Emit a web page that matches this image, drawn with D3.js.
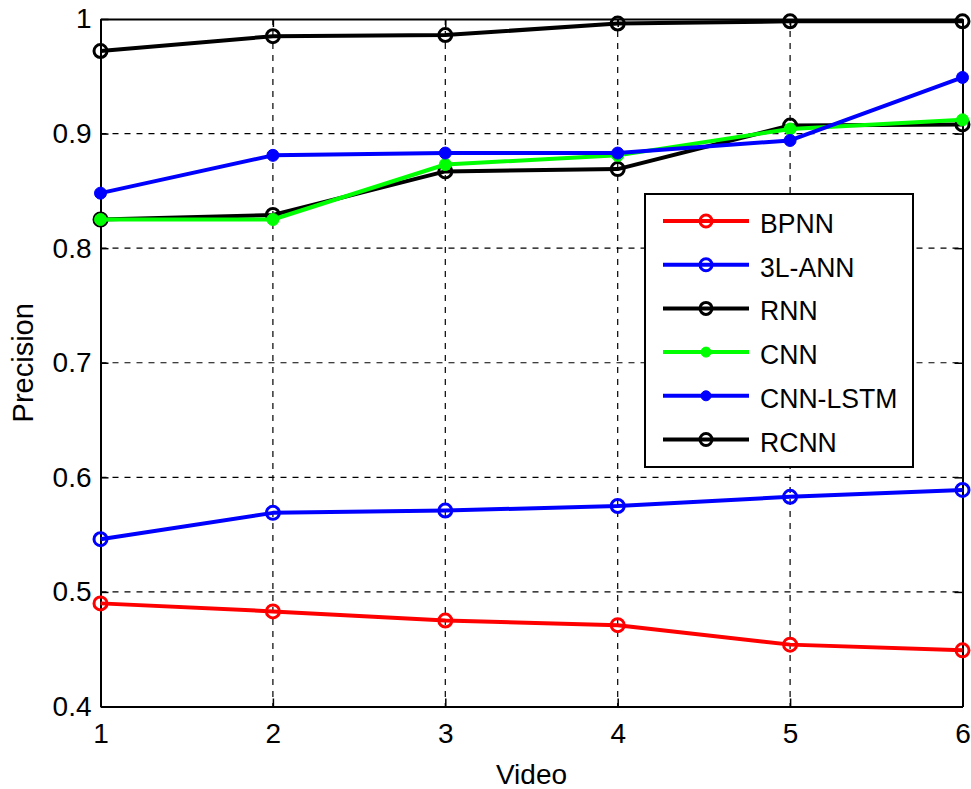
<!DOCTYPE html>
<html>
<head>
<meta charset="utf-8">
<script src="https://cdn.jsdelivr.net/npm/d3@7"></script>
<style>
body{margin:0;background:#fff}
text{font-family:"Liberation Sans",Arial,sans-serif;fill:#000}
</style>
</head>
<body>
<script>
var videos = [1, 2, 3, 4, 5, 6]
var yTicks = [0.4, 0.5, 0.6, 0.7, 0.8, 0.9, 1]
var bpnn = [0.490, 0.483, 0.475, 0.471, 0.454, 0.449]
var ann3l = [0.546, 0.569, 0.571, 0.575, 0.583, 0.589]
var rnn = [0.972, 0.985, 0.986, 0.996, 0.998, 0.998]
var rcnn = [0.825, 0.829, 0.867, 0.869, 0.907, 0.908]
var cnn = [0.825, 0.825, 0.873, 0.881, 0.904, 0.912]
var cnnLstm = [0.848, 0.881, 0.883, 0.883, 0.894, 0.949]

// kolejnosc rysowania: zielona nad czarna, niebieska nad zielona
var serie = [
  {name:"BPNN", values:bpnn, color:"#ff0000", filled:false},
  {name:"3L-ANN", values:ann3l, color:"#0000ff", filled:false},
  {name:"RNN", values:rnn, color:"#000000", filled:false},
  {name:"RCNN", values:rcnn, color:"#000000", filled:false},
  {name:"CNN", values:cnn, color:"#00ff00", filled:true},
  {name:"CNN-LSTM", values:cnnLstm, color:"#0000ff", filled:true}
]
var legendOrder = ["BPNN","3L-ANN","RNN","CNN","CNN-LSTM","RCNN"]

var W = 971, H = 789
var pLeft = 100.5, pRight = 962.5, pTop = 19, pBottom = 706.5

var svg = d3.select("body").append("svg")
  .attr("width", W)
  .attr("height", H)

var x = d3.scaleLinear().domain([1, 6]).range([pLeft, pRight])
var y = d3.scaleLinear().domain([0.4, 1]).range([pBottom, pTop])

// siatka
var siatka = svg.append("g")
videos.slice(1, -1).forEach(function(v){
  siatka.append("line")
    .attr("x1", x(v)).attr("x2", x(v))
    .attr("y1", pTop).attr("y2", pBottom)
    .attr("stroke", "#000").attr("stroke-width", 1.2)
    .attr("stroke-dasharray", "6,6")
})
yTicks.slice(1, -1).forEach(function(v){
  siatka.append("line")
    .attr("x1", pLeft).attr("x2", pRight)
    .attr("y1", y(v)).attr("y2", y(v))
    .attr("stroke", "#000").attr("stroke-width", 1.2)
    .attr("stroke-dasharray", "6,6")
})

// osie
svg.append("g")
  .attr("transform", "translate(0," + pBottom + ")")
  .call(d3.axisBottom(x).tickValues(videos).tickFormat(d3.format("d")).tickSizeInner(-8).tickSizeOuter(0).tickPadding(17))
svg.append("g")
  .attr("transform", "translate(" + pLeft + ",0)")
  .call(d3.axisLeft(y).tickValues(yTicks).tickFormat(function(d){return d === 1 ? "1" : d3.format(".1f")(d)}).tickSizeInner(-8).tickSizeOuter(0).tickPadding(9))
svg.append("g")
  .attr("transform", "translate(0," + pTop + ")")
  .call(d3.axisTop(x).tickValues(videos).tickFormat("").tickSizeInner(-8).tickSizeOuter(0))
svg.append("g")
  .attr("transform", "translate(" + pRight + ",0)")
  .call(d3.axisRight(y).tickValues(yTicks).tickFormat("").tickSizeInner(-8).tickSizeOuter(0))

svg.selectAll(".domain").attr("stroke", "#000").attr("stroke-width", 2)
svg.selectAll(".tick line").attr("stroke", "#000").attr("stroke-width", 1.5)
svg.selectAll(".tick text").style("font-size", "28px").attr("fill", "#000")

// linie serii
var linia = d3.line()
  .x(function(d, i){return x(videos[i])})
  .y(function(d){return y(d)})

serie.forEach(function(s){
  var g = svg.append("g")
  g.append("path")
    .attr("d", linia(s.values))
    .attr("fill", "none")
    .attr("stroke", s.color)
    .attr("stroke-width", 4)
    .attr("stroke-linejoin", "round")
  g.selectAll("circle").data(s.values).enter().append("circle")
    .attr("cx", function(d, i){return x(videos[i])})
    .attr("cy", function(d){return y(d)})
    .attr("r", s.filled ? 6 : 6.5)
    .attr("fill", s.filled ? s.color : "none")
    .attr("stroke", s.color)
    .attr("stroke-width", s.filled ? 1 : 3)
})

// opisy osi
svg.append("text")
  .attr("x", (pLeft + pRight) / 2)
  .attr("y", 784)
  .attr("text-anchor", "middle")
  .style("font-size", "28px")
  .text("Video")
svg.append("text")
  .attr("transform", "translate(33," + ((pTop + pBottom) / 2) + ") rotate(-90)")
  .attr("text-anchor", "middle")
  .style("font-size", "29px")
  .text("Precision")

// legenda
var legenda = svg.append("g")
legenda.append("rect")
  .attr("x", 645).attr("y", 194)
  .attr("width", 268).attr("height", 273)
  .attr("fill", "#fff").attr("stroke", "#000").attr("stroke-width", 2)
legendOrder.forEach(function(n, i){
  var s = serie.filter(function(d){return d.name === n})[0]
  var ly = 221 + i * 43.7
  legenda.append("line")
    .attr("x1", 663).attr("x2", 749)
    .attr("y1", ly).attr("y2", ly)
    .attr("stroke", s.color).attr("stroke-width", 4)
  legenda.append("circle")
    .attr("cx", 706).attr("cy", ly)
    .attr("r", s.filled ? 5 : 6)
    .attr("fill", s.filled ? s.color : "none")
    .attr("stroke", s.color)
    .attr("stroke-width", s.filled ? 1 : 3)
  legenda.append("text")
    .attr("transform", "translate(760," + (ly + 12) + ") scale(0.95,1)")
    .style("font-size", "28px")
    .text(n)
})
</script>
</body>
</html>
